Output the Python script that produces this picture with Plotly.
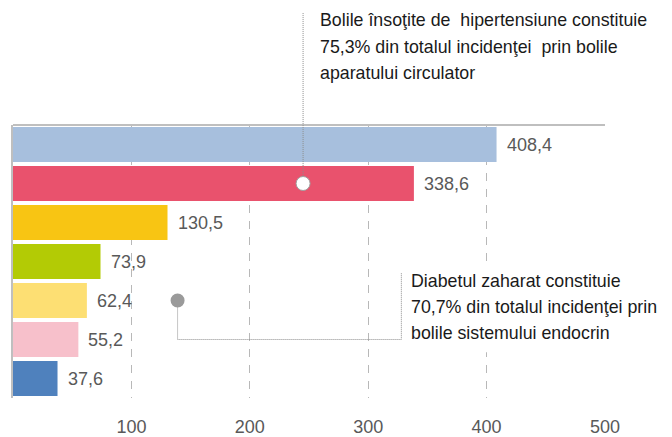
import plotly.graph_objects as go

# ---- data ----
categories = ["Categoria 1", "Categoria 2", "Categoria 3", "Categoria 4",
              "Categoria 5", "Categoria 6", "Categoria 7"]
values = [408.4, 338.6, 130.5, 73.9, 62.4, 55.2, 37.6]
colors = ["#A7BFDD", "#E9526D", "#F8C513", "#B3CB05", "#FDDF73", "#F7C0CB", "#4F81BD"]
tick_values = [100, 200, 300, 400, 500]
x_max = 500

note1_lines = ["Bolile însoţite de  hipertensiune constituie",
               "75,3% din totalul incidenţei  prin bolile",
               "aparatului circulator"]
note2_lines = ["Diabetul zaharat constituie",
               "70,7% din totalul incidenţei prin",
               "bolile sistemului endocrin"]

# annotation anchor points (data coordinates)
note1_point_x, note1_point_cat = 245, 1
note2_point_x, note2_point_cat = 139, 4

FONT = "Liberation Sans"
LABEL_COLOR = "#595959"
DOT_COLOR = "#8c8c8c"
NOTE_SIZE = 17.8

fig = go.Figure()
fig.add_trace(go.Bar(
    x=values, y=categories, orientation="h",
    marker=dict(color=colors, line=dict(width=0)),
    hoverinfo="skip", showlegend=False,
))

# value labels
annotations = []
for c, v in zip(categories, values):
    annotations.append(dict(
        x=v, y=c, xref="x", yref="y", text=f"{v:.1f}".replace(".", ","),
        showarrow=False, xanchor="left", yanchor="middle", xshift=8,
        font=dict(family=FONT, size=18, color=LABEL_COLOR),
    ))

# note texts
note1_y = [1.385, 1.286, 1.190]  # paper
for line, yy in zip(note1_lines, note1_y):
    annotations.append(dict(
        x=258, y=yy, xref="x", yref="paper", text=line, showarrow=False,
        xanchor="left", yanchor="middle",
        font=dict(family=FONT, size=NOTE_SIZE, color="#1a1a1a"),
    ))
note2_y = [3.5, 4.167, 4.833]  # category index
for line, yy in zip(note2_lines, note2_y):
    annotations.append(dict(
        x=334.8, y=yy, xref="x", yref="y", text=line, showarrow=False,
        xanchor="left", yanchor="middle",
        font=dict(family=FONT, size=NOTE_SIZE, color="#1a1a1a"),
    ))

dotted = dict(color=DOT_COLOR, width=1, dash="1px,1px")
shapes = [
    # white box behind second note (hides gridlines)
    dict(type="rect", xref="paper", yref="paper", x0=0.66, x1=1.12, y0=0.168, y1=0.498,
         fillcolor="white", line=dict(width=0), layer="above"),
    # top border of plot
    dict(type="line", xref="paper", yref="paper", x0=0, x1=1, y0=1, y1=1,
         line=dict(color="#bfbfbf", width=2), layer="above"),
    # connector 1
    dict(type="line", xref="x", yref="paper", x0=note1_point_x, x1=note1_point_x,
         y0=1.41, y1=1 - (note1_point_cat + 0.5) / len(categories),
         line=dotted, layer="above"),
    # connector 2
    dict(type="path", xref="x", yref="y",
         path=f"M {note2_point_x},{note2_point_cat} L {note2_point_x},5 L 328,5 L 328,3.3",
         line=dotted, layer="above"),
    # marker 1 (white circle)
    dict(type="circle", xref="x", yref="y", xsizemode="pixel", ysizemode="pixel",
         xanchor=note1_point_x, yanchor=note1_point_cat, x0=-7, x1=7, y0=-7, y1=7,
         fillcolor="white", line=dict(color="#a0a0a0", width=1), layer="above"),
    # marker 2 (grey dot)
    dict(type="circle", xref="x", yref="y", xsizemode="pixel", ysizemode="pixel",
         xanchor=note2_point_x, yanchor=note2_point_cat, x0=-7, x1=7, y0=-7, y1=7,
         fillcolor="#9a9a9a", line=dict(width=0), layer="above"),
]

# page body has an 8px default margin: compensate so the plot sits where it should
fig.update_layout(
    width=664, height=429,
    margin=dict(l=5, r=67, t=117, b=39),
    paper_bgcolor="white", plot_bgcolor="white",
    bargap=0.1,
    showlegend=False,
    annotations=annotations,
    shapes=shapes,
    font=dict(family=FONT),
)
fig.update_xaxes(
    range=[0, x_max], tickvals=tick_values, ticktext=[str(t) for t in tick_values],
    showgrid=True, gridcolor="#b8b8b8", gridwidth=1, griddash="8px,8px",
    zeroline=False, showline=False, ticks="", automargin=False,
    tickfont=dict(family=FONT, size=18, color=LABEL_COLOR),
    ticklabelstandoff=16,
)
fig.update_yaxes(
    categoryorder="array", categoryarray=categories, autorange="reversed",
    showticklabels=False, showgrid=False, zeroline=False, ticks="", automargin=False,
    showline=True, linecolor="#bfbfbf", linewidth=2,
)

fig.write_html("out.html")
